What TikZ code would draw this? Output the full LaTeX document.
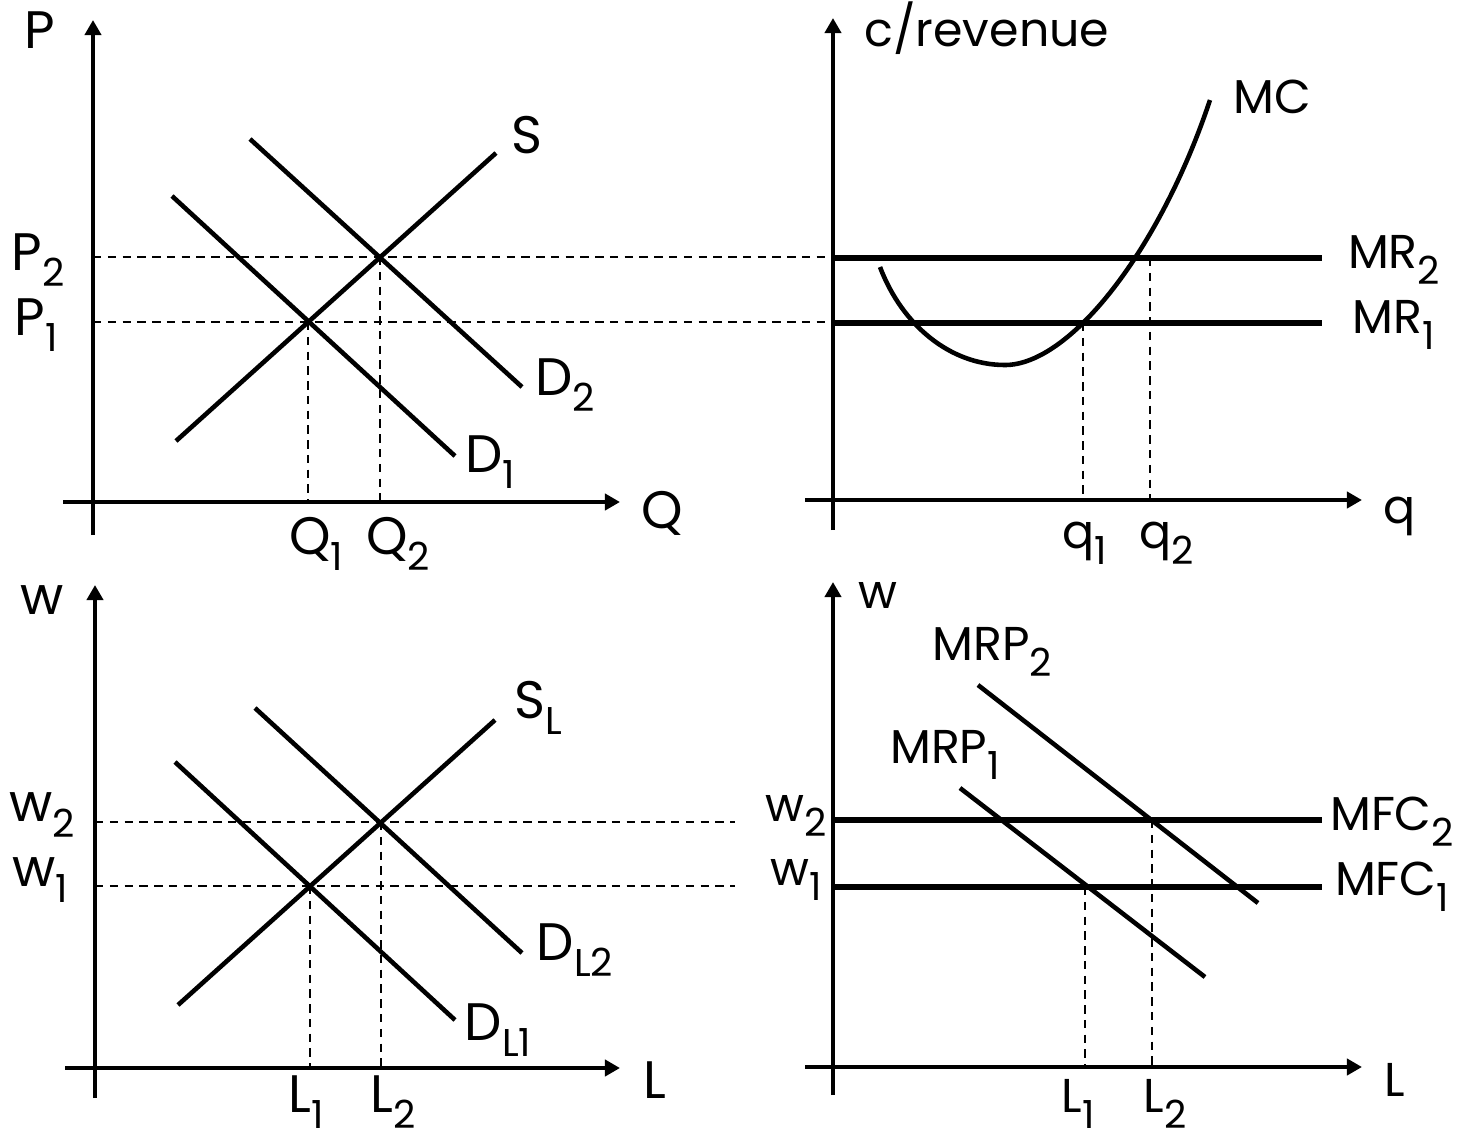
\documentclass[tikz,border=0pt]{standalone}
\usepackage{fontspec}
\setmainfont{Poppins}
\usetikzlibrary{arrows.meta}
\newcommand{\lowix}[1]{\raisebox{-4.5pt}{\fontsize{11}{12}\selectfont #1}}

\begin{document}
\begin{tikzpicture}[x=0.01cm, y=-0.01cm,
  axis/.style={line width=1.2pt, -{Triangle[length=4.3pt,width=4.6pt]}},
  curve/.style={line width=1.3pt},
  level/.style={line width=1.6pt},
  guide/.style={line width=0.6pt, dash pattern=on 2.4pt off 1.8pt},
  biglab/.style={font=\fontsize{15}{18}\selectfont},
  lab/.style={font=\fontsize{13.5}{16}\selectfont}]
  \useasboundingbox (0,0) rectangle (1462,1138);

  % goods market
  \begin{scope}
    \draw[axis] (93,535) -- (93,20);
    \draw[axis] (63,502) -- (620,502);
    \node[biglab] (pAx) at (40,30) {P};
    \node[biglab] (qAx) at (662,513) {Q};
    \coordinate (e1) at (308,322);
    \coordinate (e2) at (380,257);
    \draw[curve] (176,441) -- (496,153);
    \draw[curve] (172,196) -- (455,456);
    \draw[curve] (250,139) -- (522,387);
    \draw[guide] (93,257) -- (e2) -- (833,257);
    \draw[guide] (93,322) -- (e1) -- (833,322);
    \draw[guide] (e1) -- (308,502);
    \draw[guide] (e2) -- (380,502);
    \node[biglab] (sLab) at (527,135) {S};
    \node[biglab] (d2Lab) at (565,385) {D\lowix{2}};
    \node[biglab] (d1Lab) at (490,462) {D\lowix{1}};
    \node[biglab] (p2Lab) at (38,260) {P\lowix{2}};
    \node[biglab] (p1Lab) at (36,325) {P\lowix{1}};
    \node[biglab] (q1Lab) at (316,544) {Q\lowix{1}};
    \node[biglab] (q2Lab) at (398,544) {Q\lowix{2}};
  \end{scope}

  % firm
  \begin{scope}
    \draw[axis] (833,530) -- (833,18);
    \draw[axis] (805,500) -- (1362,500);
    \node[lab, anchor=west] (cAx) at (852,28) {c/revenue};
    \node[lab] (qfAx) at (1400,516) {q};
    \draw[level] (835,258) -- (1322,258);
    \draw[level] (835,323) -- (1322,323);
    \draw[curve] (880,267) .. controls (902,325) and (950,365) .. (1005,365)
      .. controls (1070,365) and (1160,250) .. (1210,100);
    \draw[guide] (1083,323) -- (1083,500);
    \draw[guide] (1150,258) -- (1150,500);
    \node[lab] (mcLab) at (1272,97) {MC};
    \node[lab] (mr2Lab) at (1394,260) {MR\lowix{2}};
    \node[lab] (mr1Lab) at (1394,325) {MR\lowix{1}};
    \node[lab] (qf1Lab) at (1085,543) {q\lowix{1}};
    \node[lab] (qf2Lab) at (1167,543) {q\lowix{2}};
  \end{scope}

  % labour market
  \begin{scope}
    \draw[axis] (95,1098) -- (95,585);
    \draw[axis] (65,1068) -- (620,1068);
    \node[biglab] (wAx) at (42,600) {w};
    \node[biglab] (lAx) at (655,1080) {L};
    \coordinate (f1) at (310,886);
    \coordinate (f2) at (381,822);
    \draw[curve] (178,1005) -- (495,720);
    \draw[curve] (175,762) -- (455,1020);
    \draw[curve] (255,708) -- (522,953);
    \draw[guide] (95,822) -- (f2) -- (735,822);
    \draw[guide] (95,886) -- (f1) -- (735,886);
    \draw[guide] (f1) -- (310,1068);
    \draw[guide] (f2) -- (381,1068);
    \node[biglab] (slLab) at (538,708) {S\lowix{L}};
    \node[biglab] (dl2Lab) at (575,950) {D\lowix{L2}};
    \node[biglab] (dl1Lab) at (498,1030) {D\lowix{L1}};
    \node[biglab] (w2Lab) at (42,815) {w\lowix{2}};
    \node[biglab] (w1Lab) at (40,880) {w\lowix{1}};
    \node[biglab] (l1Lab) at (306,1102) {L\lowix{1}};
    \node[biglab] (l2Lab) at (393,1102) {L\lowix{2}};
  \end{scope}

  % firm hiring
  \begin{scope}
    \draw[axis] (833,1095) -- (833,582);
    \draw[axis] (805,1067) -- (1362,1067);
    \node[lab] (whAx) at (878,595) {w};
    \node[lab] (lhAx) at (1395,1080) {L};
    \draw[level] (835,820) -- (1322,820);
    \draw[level] (835,887) -- (1322,887);
    \draw[curve] (978,685) -- (1258,903);
    \draw[curve] (960,788) -- (1205,977);
    \draw[guide] (1085,887) -- (1085,1067);
    \draw[guide] (1152,820) -- (1152,1067);
    \node[lab] (mrp2Lab) at (992,652) {MRP\lowix{2}};
    \node[lab] (mrp1Lab) at (945,755) {MRP\lowix{1}};
    \node[lab] (wh2Lab) at (796,816) {w\lowix{2}};
    \node[lab] (wh1Lab) at (796,880) {w\lowix{1}};
    \node[lab] (mfc2Lab) at (1392,822) {MFC\lowix{2}};
    \node[lab] (mfc1Lab) at (1392,887) {MFC\lowix{1}};
    \node[lab] (lh1Lab) at (1078,1104) {L\lowix{1}};
    \node[lab] (lh2Lab) at (1165,1104) {L\lowix{2}};
  \end{scope}
\end{tikzpicture}
\end{document}
